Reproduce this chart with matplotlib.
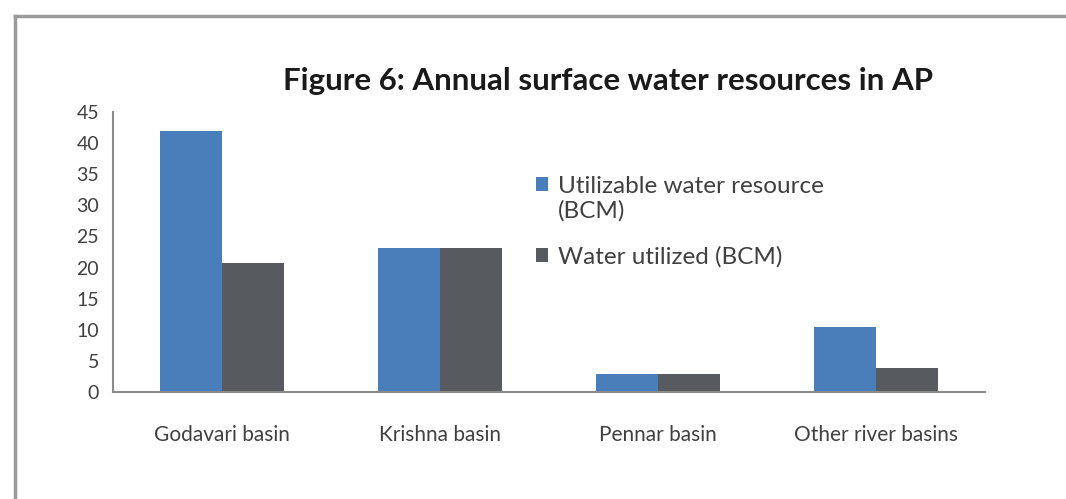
import numpy as np
import matplotlib.pyplot as plt
from matplotlib.lines import Line2D

basins = ['Godavari basin', 'Krishna basin', 'Pennar basin', 'Other river basins']
utilizable = [42.0, 23.2, 2.9, 10.4]
utilized = [20.7, 23.2, 2.9, 3.8]
series_names = ['Utilizable water resource\n(BCM)', 'Water utilized (BCM)']

plt.rcParams['font.family'] = ['Lato', 'DejaVu Sans']

fig = plt.figure(figsize=(10.66, 4.99), dpi=100)
ax = fig.add_axes([113 / 1066, 1 - 392 / 499, (985 - 113) / 1066, (392 - 112) / 499])

x = np.arange(len(basins))
w = 0.285
ax.bar(x - w / 2, utilizable, w, color='#4a7ebb', label=series_names[0])
ax.bar(x + w / 2, utilized, w, color='#575a5e', label=series_names[1])

ax.set_xlim(-0.5, 3.5)
ax.set_ylim(0, 45)
ax.set_yticks(range(0, 50, 5))
ax.set_xticks(x)
ax.set_xticklabels(basins)
ax.tick_params(axis='y', length=0, labelsize=14, colors='#404040', pad=10)
ax.tick_params(axis='x', length=0, labelsize=15, colors='#404040', pad=24)
for s in ['top', 'right']:
    ax.spines[s].set_visible(False)
for s in ['left', 'bottom']:
    ax.spines[s].set_color('#8c8c8c')
    ax.spines[s].set_linewidth(1.5)

fs = 17.5
leg = ax.legend(loc='upper left', bbox_to_anchor=(0.46, 0.85), frameon=False,
                fontsize=fs, handlelength=0.5, handleheight=0.5, handletextpad=0.4,
                labelspacing=1.0, labelcolor='#404040')
# put the first square beside the first line of its two-line label (like Excel)
p = leg.get_patches()[0]
p.set_y(p.get_y() + 0.6 * fs)

fig.text(0.57, 1 - 81 / 499, 'Figure 6: Annual surface water resources in AP',
         ha='center', va='center', fontsize=22.5, fontweight='bold', color='#1a1a1a')

# outer frame of the pasted chart
fig.add_artist(Line2D([15 / 1066, 1], [1 - 16 / 499] * 2, transform=fig.transFigure,
                      color='#9a9a9a', lw=2.5))
fig.add_artist(Line2D([15 / 1066] * 2, [0, 1 - 16 / 499], transform=fig.transFigure,
                      color='#9a9a9a', lw=2.5))

fig.savefig('out.png', dpi=100)
